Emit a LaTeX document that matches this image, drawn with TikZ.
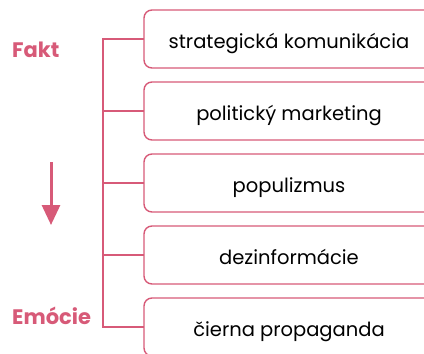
\documentclass[tikz,border=0pt]{standalone}
\usepackage{fontspec}
\setmainfont{Poppins}
\usetikzlibrary{arrows.meta,positioning}
\definecolor{rose}{HTML}{D75A78}

\begin{document}
\begin{tikzpicture}[x=1bp,y=-1bp,
   item/.style={draw=rose, line width=1.4bp, rounded corners=8bp, rectangle,
      minimum width=290bp, minimum height=58bp, inner sep=0pt, outer sep=0pt,
      text height=20bp, text depth=2bp,
      font=\fontsize{19.5bp}{23bp}\selectfont},
   pole/.style={text=rose, inner sep=0pt, anchor=base west,
      font=\bfseries\fontsize{21bp}{25bp}\selectfont},
   conn/.style={draw=rose, line width=1.4bp}]

   \useasboundingbox (0,0) rectangle (424,354);
   \clip (0,0) rectangle (424,354);

   \node[item] (s1) at (289,39) {strategická komunikácia};
   \node[item] (s2) [below=14bp of s1] {politický marketing};
   \node[item] (s3) [below=14bp of s2] {populizmus};
   \node[item] (s4) [below=14bp of s3] {dezinformácie};
   \node[item] (s5) [below=14bp of s4] {čierna propaganda};

   \node[pole] (fakt) at (12,57) {Fakt};
   \node[pole] (emocie) at (12,324) {Emócie};

   % strom spojov
   \coordinate (trunk) at (103,39);
   \draw[conn] (s1.west) -- (trunk) |- (s5.west);
   \foreach \i in {2,3,4}
      \draw[conn] (s\i.west) -- (s\i.west -| trunk);

   % smer od faktu k emociam
   \coordinate (from) at (51,162);
   \coordinate (to) at (51,225);
   \draw[rose, line width=3bp, -{Triangle[width=18bp,length=20bp]}] (from) -- (to);

\end{tikzpicture}
\end{document}
